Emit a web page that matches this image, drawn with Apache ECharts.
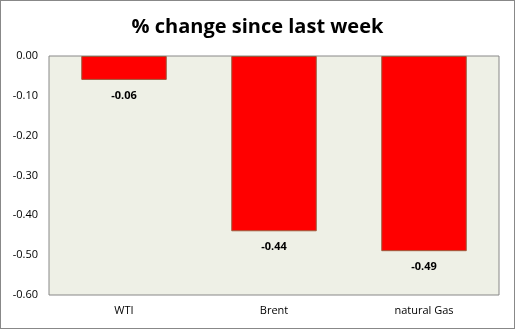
<!DOCTYPE html>
<html><head><meta charset="utf-8">
<script src="https://cdn.jsdelivr.net/npm/echarts@6/dist/echarts.min.js"></script>
<style>html,body{margin:0;padding:0;background:#fff}#c{width:515px;height:329px;box-sizing:border-box;border:1px solid #888}</style>
</head><body><div id="c"></div>
<script>
const categories = ["WTI", "Brent", "natural Gas"];
const values = [-0.06, -0.44, -0.49];
const yTicks = [0, -0.1, -0.2, -0.3, -0.4, -0.5, -0.6];

const chart = echarts.init(document.getElementById('c'));
chart.setOption({
  animation: false,
  title: {
    text: '% change since last week', left: 'center', top: 11,
    textStyle: {fontFamily: 'Open Sans', fontWeight: 'bold', fontSize: 20, color: '#000'}
  },
  grid: {left: 48, right: 15, top: 55, bottom: 33, show: true, backgroundColor: '#eef0e6', borderColor: '#888', borderWidth: 1},
  xAxis: {
    type: 'category', data: categories, position: 'bottom',
    axisLine: {show: false}, axisTick: {show: false},
    axisLabel: {fontFamily: 'Open Sans', fontSize: 11, color: '#000', margin: 10}
  },
  yAxis: {
    type: 'value', min: -0.6, max: 0, interval: 0.1,
    splitLine: {show: false}, axisLine: {show: false}, axisTick: {show: false},
    axisLabel: {fontFamily: 'Open Sans', fontSize: 11, color: '#000', margin: 11,
      formatter: v => v.toFixed(2)}
  },
  series: [{
    type: 'bar', data: values, barWidth: '57%',
    itemStyle: {color: '#ff0000', borderColor: '#9c5a3c', borderWidth: 1},
    label: {show: true, position: 'bottom', distance: 10, fontFamily: 'Open Sans', fontWeight: 'bold', fontSize: 11, color: '#000',
      formatter: p => p.value.toFixed(2)}
  }]
});
</script></body></html>
